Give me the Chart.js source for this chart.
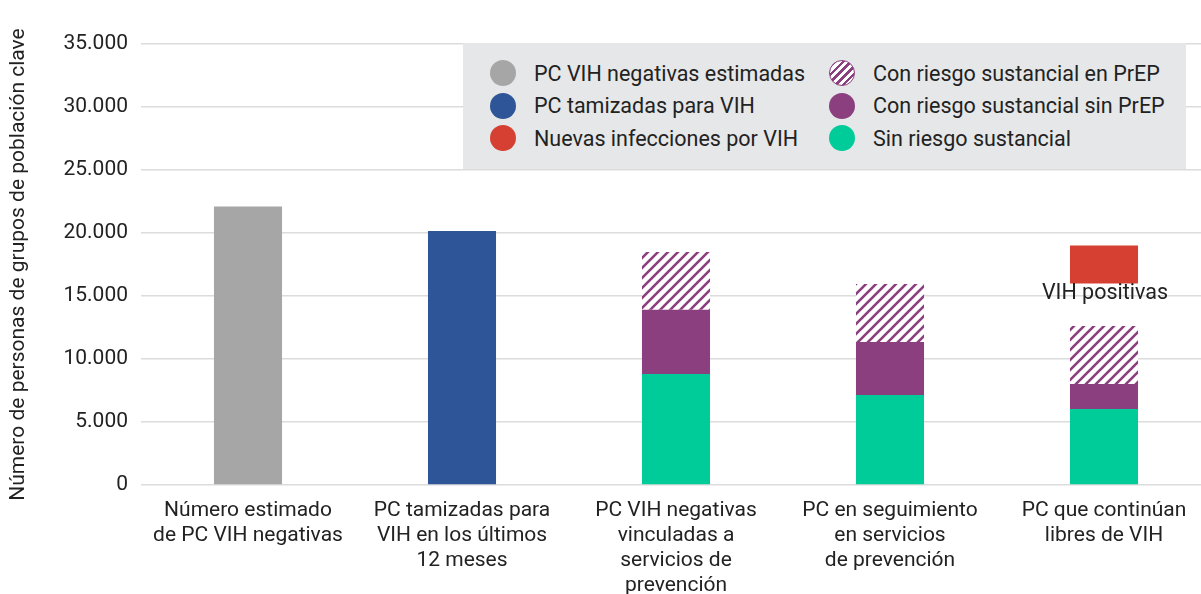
<!DOCTYPE html>
<html>
<head>
<meta charset="utf-8">
<script src="https://cdn.jsdelivr.net/npm/chart.js@4.4.1/dist/chart.umd.min.js"></script>
<style>
  html, body { margin: 0; padding: 0; overflow: hidden; background: #fff; }
  #wrap { position: relative; width: 1211px; height: 594px; }
  #legend { position: absolute; left: 463px; top: 43px; width: 723px; height: 126px; background: #e6e7e8;
            font-family: Roboto, "Noto Sans", sans-serif; font-size: 21.5px; color: #222; }
  .item { position: absolute; display: flex; align-items: center; height: 30px; white-space: nowrap; }
  .dot { width: 26px; height: 26px; border-radius: 50%; margin-right: 18px; box-sizing: border-box; flex: none; }
</style>
</head>
<body>
<div id="wrap">
  <canvas id="c" width="1211" height="594"></canvas>
  <div id="legend"></div>
</div>
<script>
// ---- Data ----
const categories = [
  ["Número estimado", "de PC VIH negativas"],
  ["PC tamizadas para", "VIH en los últimos", "12 meses"],
  ["PC VIH negativas", "vinculadas a", "servicios de", "prevención"],
  ["PC en seguimiento", "en servicios", "de prevención"],
  ["PC que continúan", "libres de VIH"]
];
const seriesNames = [
  "PC VIH negativas estimadas",
  "PC tamizadas para VIH",
  "Sin riesgo sustancial",
  "Con riesgo sustancial sin PrEP",
  "Con riesgo sustancial en PrEP",
  "Nuevas infecciones por VIH"
];
const estimadas   = [22100, null, null, null, null];
const tamizadas   = [null, 20150, null, null, null];
const sinRiesgo   = [null, null, 8800, 7150, 6030];
const sinPrEP     = [null, null, 5100, 4200, 1990];
const enPrEP      = [null, null, 4600, 4600, 4600];
const nuevasDesde = [null, null, null, null, 16000];
const nuevasHasta = [null, null, null, null, 19000];
const nuevasEtiqueta = "VIH positivas";
const yTicks = [0, 5000, 10000, 15000, 20000, 25000, 30000, 35000];
const yTitle = "Número de personas de grupos de población clave";

// ---- Styles ----
const GREY = '#a6a6a6', BLUE = '#2e5597', GREEN = '#00cc99', PURPLE = '#8b3f7e', RED = '#d64033';
const FONT = 'Roboto, "Noto Sans", sans-serif';

function hatch(color) {
  const s = 10;
  const c = document.createElement('canvas');
  c.width = s; c.height = s;
  const x = c.getContext('2d');
  x.fillStyle = '#fff'; x.fillRect(0, 0, s, s);
  x.strokeStyle = color; x.lineWidth = 2.6; x.lineCap = 'square';
  x.beginPath();
  x.moveTo(0, s); x.lineTo(s, 0);
  x.moveTo(-2, 2); x.lineTo(2, -2);
  x.moveTo(s - 2, s + 2); x.lineTo(s + 2, s - 2);
  x.stroke();
  return x.createPattern(c, 'repeat');
}
const ctx = document.getElementById('c').getContext('2d');
const HATCH = hatch(PURPLE);

const nuevas = nuevasDesde.map((d, i) => d === null ? null : [d, nuevasHasta[i]]);

const common = { stack: 'main', barPercentage: 0.318, categoryPercentage: 1, borderWidth: 0 };
const datasets = [
  { ...common, label: seriesNames[0], data: estimadas, backgroundColor: GREY },
  { ...common, label: seriesNames[1], data: tamizadas, backgroundColor: BLUE },
  { ...common, label: seriesNames[2], data: sinRiesgo, backgroundColor: GREEN },
  { ...common, label: seriesNames[3], data: sinPrEP, backgroundColor: PURPLE },
  { ...common, label: seriesNames[4], data: enPrEP, backgroundColor: HATCH },
  { ...common, stack: 'nuevas', grouped: false, label: seriesNames[5], data: nuevas, backgroundColor: RED }
];

const labelPlugin = {
  id: 'redLabel',
  afterDatasetsDraw(chart) {
    const meta = chart.getDatasetMeta(5);
    meta.data.forEach((el, i) => {
      if (nuevas[i] === null || !el) return;
      const c = chart.ctx;
      c.save();
      c.font = '21.5px ' + FONT;
      c.fillStyle = '#222';
      c.textAlign = 'center';
      c.textBaseline = 'middle';
      c.fillText(nuevasEtiqueta, el.x + 1, Math.max(el.y, el.base) + 10);
      c.restore();
    });
  }
};

new Chart(ctx, {
  type: 'bar',
  data: { labels: categories, datasets },
  options: {
    responsive: false,
    animation: false,
    layout: { padding: { top: 44, right: 0, left: 0, bottom: 0 } },
    plugins: { legend: { display: false }, tooltip: { enabled: false } },
    scales: {
      x: {
        stacked: true,
        grid: { display: false },
        border: { display: false },
        ticks: { color: '#222', font: { family: FONT, size: 21, lineHeight: 1.19 }, maxRotation: 0, autoSkip: false, padding: 5 },
        afterFit(s) { s.height = 109; }
      },
      y: {
        stacked: true,
        min: 0, max: 35000,
        afterBuildTicks(s) { s.ticks = yTicks.map(v => ({ value: v })); },
        grid: { color: '#dcdcdc', lineWidth: 1.5, drawTicks: false },
        border: { display: false },
        ticks: {
          color: '#222', font: { family: FONT, size: 21 }, padding: 13,
          callback: v => String(v).replace(/\B(?=(\d{3})+(?!\d))/g, '.')
        },
        title: { display: true, text: yTitle, color: '#222', font: { family: FONT, size: 21 }, padding: { top: 6, bottom: 0 } },
        afterFit(s) { s.width = 141; }
      }
    }
  },
  plugins: [labelPlugin]
});

// ---- HTML legend built from the datasets ----
const legendOrder = [0, 1, 5, 4, 3, 2];
const legend = document.getElementById('legend');
legendOrder.forEach((di, k) => {
  const col = Math.floor(k / 3), row = k % 3;
  const ds = datasets[di];
  const item = document.createElement('div');
  item.className = 'item';
  item.style.left = (col === 0 ? 27 : 366) + 'px';
  item.style.top = (15 + row * 32.5) + 'px';
  const dot = document.createElement('span');
  dot.className = 'dot';
  if (di === 4) {
    dot.style.background = 'repeating-linear-gradient(135deg, #fff 0 3px, ' + PURPLE + ' 3px 5.5px)';
    dot.style.border = '1.5px solid ' + PURPLE;
  } else {
    dot.style.background = ds.backgroundColor;
  }
  const txt = document.createElement('span');
  txt.textContent = ds.label;
  item.appendChild(dot); item.appendChild(txt);
  legend.appendChild(item);
});
</script>
</body>
</html>
